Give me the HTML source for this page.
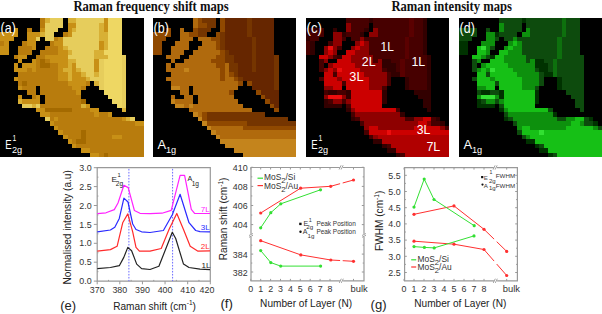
<!DOCTYPE html>
<html><head><meta charset="utf-8">
<style>
html,body{margin:0;padding:0;background:#fff;width:602px;height:314px;overflow:hidden}
svg{display:block}
text{font-family:"Liberation Sans",sans-serif}
.ser{font-family:"Liberation Serif",serif;font-weight:bold}
</style></head><body>
<svg width="602" height="314" viewBox="0 0 602 314">
<defs><filter id="soft" x="-2%" y="-2%" width="104%" height="104%"><feGaussianBlur stdDeviation="0.45"/></filter></defs>
<rect width="602" height="314" fill="#fff"/>
<text class="ser" x="73.4" y="11.1" font-size="13.8" fill="#111" textLength="155.4" lengthAdjust="spacingAndGlyphs">Raman frequency shift maps</text>
<text class="ser" x="391.4" y="11.1" font-size="13.8" fill="#111" textLength="120.6" lengthAdjust="spacingAndGlyphs">Raman intensity maps</text>
<g filter="url(#soft)">
<g shape-rendering="crispEdges"><rect x="0" y="18" width="144" height="139" fill="#000"/>
<rect x="40" y="18" width="5" height="5" fill="#b87c08"/>
<rect x="45" y="18" width="5" height="5" fill="#d8b036"/>
<rect x="50" y="18" width="13" height="5" fill="#e6cd5c"/>
<rect x="68" y="18" width="8" height="5" fill="#d8b036"/>
<rect x="76" y="18" width="28" height="5" fill="#e6cd5c"/>
<rect x="104" y="18" width="4" height="5" fill="#c89012"/>
<rect x="108" y="18" width="14" height="5" fill="#eed764"/>
<rect x="40" y="23" width="5" height="5" fill="#b87c08"/>
<rect x="45" y="23" width="18" height="5" fill="#e6cd5c"/>
<rect x="68" y="23" width="8" height="5" fill="#c89012"/>
<rect x="76" y="23" width="23" height="5" fill="#e6cd5c"/>
<rect x="99" y="23" width="5" height="5" fill="#d8b036"/>
<rect x="104" y="23" width="4" height="5" fill="#c89012"/>
<rect x="108" y="23" width="14" height="5" fill="#eed764"/>
<rect x="14" y="28" width="4" height="4" fill="#c89012"/>
<rect x="27" y="28" width="5" height="4" fill="#b87c08"/>
<rect x="40" y="28" width="5" height="4" fill="#c89012"/>
<rect x="45" y="28" width="13" height="4" fill="#e6cd5c"/>
<rect x="68" y="28" width="4" height="4" fill="#c89012"/>
<rect x="72" y="28" width="4" height="4" fill="#d8b036"/>
<rect x="76" y="28" width="23" height="4" fill="#e6cd5c"/>
<rect x="99" y="28" width="5" height="4" fill="#d8b036"/>
<rect x="104" y="28" width="4" height="4" fill="#c89012"/>
<rect x="108" y="28" width="14" height="4" fill="#eed764"/>
<rect x="0" y="32" width="18" height="5" fill="#c89012"/>
<rect x="27" y="32" width="13" height="5" fill="#c89012"/>
<rect x="40" y="32" width="5" height="5" fill="#d8b036"/>
<rect x="45" y="32" width="9" height="5" fill="#e6cd5c"/>
<rect x="63" y="32" width="5" height="5" fill="#b87c08"/>
<rect x="68" y="32" width="4" height="5" fill="#c89012"/>
<rect x="72" y="32" width="27" height="5" fill="#e6cd5c"/>
<rect x="99" y="32" width="9" height="5" fill="#d8b036"/>
<rect x="108" y="32" width="14" height="5" fill="#eed764"/>
<rect x="0" y="37" width="14" height="4" fill="#c89012"/>
<rect x="27" y="37" width="9" height="4" fill="#c89012"/>
<rect x="36" y="37" width="4" height="4" fill="#e6cd5c"/>
<rect x="45" y="37" width="9" height="4" fill="#e6cd5c"/>
<rect x="54" y="37" width="4" height="4" fill="#b87c08"/>
<rect x="58" y="37" width="5" height="4" fill="#c89012"/>
<rect x="63" y="37" width="36" height="4" fill="#e6cd5c"/>
<rect x="99" y="37" width="9" height="4" fill="#d8b036"/>
<rect x="108" y="37" width="14" height="4" fill="#eed764"/>
<rect x="0" y="41" width="4" height="5" fill="#b87c08"/>
<rect x="4" y="41" width="5" height="5" fill="#c89012"/>
<rect x="22" y="41" width="5" height="5" fill="#b87c08"/>
<rect x="27" y="41" width="9" height="5" fill="#c89012"/>
<rect x="50" y="41" width="4" height="5" fill="#b87c08"/>
<rect x="54" y="41" width="9" height="5" fill="#c89012"/>
<rect x="63" y="41" width="36" height="5" fill="#e6cd5c"/>
<rect x="99" y="41" width="5" height="5" fill="#c89012"/>
<rect x="104" y="41" width="4" height="5" fill="#d8b036"/>
<rect x="108" y="41" width="14" height="5" fill="#eed764"/>
<rect x="0" y="46" width="9" height="4" fill="#c89012"/>
<rect x="18" y="46" width="14" height="4" fill="#b87c08"/>
<rect x="32" y="46" width="4" height="4" fill="#c89012"/>
<rect x="45" y="46" width="13" height="4" fill="#b87c08"/>
<rect x="58" y="46" width="5" height="4" fill="#c89012"/>
<rect x="63" y="46" width="5" height="4" fill="#d8b036"/>
<rect x="68" y="46" width="31" height="4" fill="#e6cd5c"/>
<rect x="99" y="46" width="5" height="4" fill="#c89012"/>
<rect x="104" y="46" width="4" height="4" fill="#d8b036"/>
<rect x="108" y="46" width="14" height="4" fill="#eed764"/>
<rect x="0" y="50" width="9" height="5" fill="#c89012"/>
<rect x="18" y="50" width="14" height="5" fill="#b87c08"/>
<rect x="40" y="50" width="18" height="5" fill="#b87c08"/>
<rect x="58" y="50" width="10" height="5" fill="#c89012"/>
<rect x="68" y="50" width="4" height="5" fill="#d8b036"/>
<rect x="72" y="50" width="22" height="5" fill="#e6cd5c"/>
<rect x="94" y="50" width="10" height="5" fill="#d8b036"/>
<rect x="104" y="50" width="18" height="5" fill="#eed764"/>
<rect x="14" y="55" width="4" height="4" fill="#b87c08"/>
<rect x="18" y="55" width="9" height="4" fill="#c89012"/>
<rect x="36" y="55" width="9" height="4" fill="#b87c08"/>
<rect x="45" y="55" width="23" height="4" fill="#c89012"/>
<rect x="68" y="55" width="26" height="4" fill="#e6cd5c"/>
<rect x="94" y="55" width="14" height="4" fill="#d8b036"/>
<rect x="108" y="55" width="14" height="4" fill="#eed764"/>
<rect x="122" y="55" width="4" height="4" fill="#e6cd5c"/>
<rect x="18" y="59" width="4" height="4" fill="#c89012"/>
<rect x="32" y="59" width="4" height="4" fill="#c89012"/>
<rect x="36" y="59" width="4" height="4" fill="#b87c08"/>
<rect x="40" y="59" width="5" height="4" fill="#a46a06"/>
<rect x="45" y="59" width="5" height="4" fill="#b87c08"/>
<rect x="50" y="59" width="18" height="4" fill="#c89012"/>
<rect x="68" y="59" width="8" height="4" fill="#d8b036"/>
<rect x="76" y="59" width="18" height="4" fill="#e6cd5c"/>
<rect x="94" y="59" width="5" height="4" fill="#c89012"/>
<rect x="99" y="59" width="5" height="4" fill="#e6cd5c"/>
<rect x="104" y="59" width="18" height="4" fill="#eed764"/>
<rect x="122" y="59" width="4" height="4" fill="#e6cd5c"/>
<rect x="14" y="63" width="4" height="5" fill="#c89012"/>
<rect x="22" y="63" width="14" height="5" fill="#c89012"/>
<rect x="36" y="63" width="4" height="5" fill="#b87c08"/>
<rect x="40" y="63" width="10" height="5" fill="#a46a06"/>
<rect x="50" y="63" width="8" height="5" fill="#b87c08"/>
<rect x="58" y="63" width="10" height="5" fill="#c89012"/>
<rect x="68" y="63" width="4" height="5" fill="#d8b036"/>
<rect x="72" y="63" width="4" height="5" fill="#c89012"/>
<rect x="76" y="63" width="18" height="5" fill="#e6cd5c"/>
<rect x="94" y="63" width="5" height="5" fill="#c89012"/>
<rect x="99" y="63" width="5" height="5" fill="#e6cd5c"/>
<rect x="104" y="63" width="18" height="5" fill="#eed764"/>
<rect x="122" y="63" width="4" height="5" fill="#e6cd5c"/>
<rect x="14" y="68" width="13" height="4" fill="#c89012"/>
<rect x="27" y="68" width="5" height="4" fill="#b87c08"/>
<rect x="32" y="68" width="4" height="4" fill="#c89012"/>
<rect x="36" y="68" width="22" height="4" fill="#b87c08"/>
<rect x="58" y="68" width="5" height="4" fill="#c89012"/>
<rect x="63" y="68" width="9" height="4" fill="#d8b036"/>
<rect x="72" y="68" width="4" height="4" fill="#c89012"/>
<rect x="76" y="68" width="5" height="4" fill="#d8b036"/>
<rect x="81" y="68" width="13" height="4" fill="#e6cd5c"/>
<rect x="94" y="68" width="5" height="4" fill="#c89012"/>
<rect x="99" y="68" width="5" height="4" fill="#e6cd5c"/>
<rect x="104" y="68" width="18" height="4" fill="#eed764"/>
<rect x="122" y="68" width="4" height="4" fill="#e6cd5c"/>
<rect x="18" y="72" width="40" height="5" fill="#b87c08"/>
<rect x="58" y="72" width="10" height="5" fill="#c89012"/>
<rect x="68" y="72" width="4" height="5" fill="#d8b036"/>
<rect x="72" y="72" width="9" height="5" fill="#c89012"/>
<rect x="81" y="72" width="5" height="5" fill="#d8b036"/>
<rect x="86" y="72" width="8" height="5" fill="#e6cd5c"/>
<rect x="94" y="72" width="5" height="5" fill="#d8b036"/>
<rect x="99" y="72" width="5" height="5" fill="#e6cd5c"/>
<rect x="104" y="72" width="18" height="5" fill="#eed764"/>
<rect x="122" y="72" width="4" height="5" fill="#e6cd5c"/>
<rect x="14" y="77" width="4" height="4" fill="#c89012"/>
<rect x="18" y="77" width="40" height="4" fill="#b87c08"/>
<rect x="58" y="77" width="10" height="4" fill="#c89012"/>
<rect x="68" y="77" width="4" height="4" fill="#d8b036"/>
<rect x="72" y="77" width="14" height="4" fill="#c89012"/>
<rect x="86" y="77" width="4" height="4" fill="#d8b036"/>
<rect x="90" y="77" width="14" height="4" fill="#e6cd5c"/>
<rect x="104" y="77" width="18" height="4" fill="#eed764"/>
<rect x="122" y="77" width="4" height="4" fill="#e6cd5c"/>
<rect x="18" y="81" width="4" height="5" fill="#b87c08"/>
<rect x="22" y="81" width="5" height="5" fill="#a46a06"/>
<rect x="27" y="81" width="41" height="5" fill="#b87c08"/>
<rect x="68" y="81" width="18" height="5" fill="#c89012"/>
<rect x="86" y="81" width="4" height="5" fill="#b87c08"/>
<rect x="94" y="81" width="5" height="5" fill="#d8b036"/>
<rect x="99" y="81" width="5" height="5" fill="#e6cd5c"/>
<rect x="104" y="81" width="18" height="5" fill="#eed764"/>
<rect x="122" y="81" width="4" height="5" fill="#e6cd5c"/>
<rect x="18" y="86" width="4" height="4" fill="#c89012"/>
<rect x="22" y="86" width="14" height="4" fill="#b87c08"/>
<rect x="40" y="86" width="32" height="4" fill="#b87c08"/>
<rect x="72" y="86" width="9" height="4" fill="#c89012"/>
<rect x="81" y="86" width="5" height="4" fill="#b87c08"/>
<rect x="99" y="86" width="5" height="4" fill="#e6cd5c"/>
<rect x="104" y="86" width="18" height="4" fill="#eed764"/>
<rect x="122" y="86" width="4" height="4" fill="#e6cd5c"/>
<rect x="27" y="90" width="9" height="5" fill="#b87c08"/>
<rect x="40" y="90" width="36" height="5" fill="#b87c08"/>
<rect x="76" y="90" width="5" height="5" fill="#c89012"/>
<rect x="104" y="90" width="18" height="5" fill="#eed764"/>
<rect x="122" y="90" width="4" height="5" fill="#e6cd5c"/>
<rect x="18" y="95" width="4" height="4" fill="#c89012"/>
<rect x="32" y="95" width="4" height="4" fill="#b87c08"/>
<rect x="36" y="95" width="4" height="4" fill="#c89012"/>
<rect x="45" y="95" width="36" height="4" fill="#b87c08"/>
<rect x="108" y="95" width="14" height="4" fill="#eed764"/>
<rect x="122" y="95" width="4" height="4" fill="#e6cd5c"/>
<rect x="18" y="99" width="4" height="5" fill="#d8b036"/>
<rect x="22" y="99" width="18" height="5" fill="#c89012"/>
<rect x="45" y="99" width="36" height="5" fill="#b87c08"/>
<rect x="81" y="99" width="5" height="5" fill="#a46a06"/>
<rect x="112" y="99" width="10" height="5" fill="#eed764"/>
<rect x="122" y="99" width="4" height="5" fill="#e6cd5c"/>
<rect x="22" y="104" width="10" height="4" fill="#e6cd5c"/>
<rect x="32" y="104" width="4" height="4" fill="#d8b036"/>
<rect x="36" y="104" width="4" height="4" fill="#e6cd5c"/>
<rect x="40" y="104" width="41" height="4" fill="#b87c08"/>
<rect x="81" y="104" width="5" height="4" fill="#d8b036"/>
<rect x="86" y="104" width="4" height="4" fill="#c89012"/>
<rect x="117" y="104" width="5" height="4" fill="#eed764"/>
<rect x="122" y="104" width="4" height="4" fill="#e6cd5c"/>
<rect x="36" y="108" width="9" height="4" fill="#c89012"/>
<rect x="45" y="108" width="27" height="4" fill="#a46a06"/>
<rect x="72" y="108" width="18" height="4" fill="#b87c08"/>
<rect x="90" y="108" width="9" height="4" fill="#c89012"/>
<rect x="122" y="108" width="4" height="4" fill="#d8b036"/>
<rect x="40" y="112" width="10" height="5" fill="#c89012"/>
<rect x="50" y="112" width="44" height="5" fill="#b87c08"/>
<rect x="94" y="112" width="5" height="5" fill="#c89012"/>
<rect x="99" y="112" width="9" height="5" fill="#b87c08"/>
<rect x="108" y="112" width="4" height="5" fill="#c89012"/>
<rect x="45" y="117" width="5" height="4" fill="#e6cd5c"/>
<rect x="50" y="117" width="4" height="4" fill="#b87c08"/>
<rect x="54" y="117" width="4" height="4" fill="#c89012"/>
<rect x="58" y="117" width="64" height="4" fill="#b87c08"/>
<rect x="122" y="117" width="4" height="4" fill="#c89012"/>
<rect x="126" y="117" width="4" height="4" fill="#d8b036"/>
<rect x="130" y="117" width="5" height="4" fill="#e6cd5c"/>
<rect x="50" y="121" width="4" height="5" fill="#c89012"/>
<rect x="54" y="121" width="81" height="5" fill="#b87c08"/>
<rect x="135" y="121" width="9" height="5" fill="#c89012"/>
<rect x="54" y="126" width="4" height="4" fill="#c89012"/>
<rect x="58" y="126" width="86" height="4" fill="#b87c08"/>
<rect x="58" y="130" width="5" height="5" fill="#c89012"/>
<rect x="63" y="130" width="18" height="5" fill="#b87c08"/>
<rect x="81" y="130" width="5" height="5" fill="#a46a06"/>
<rect x="86" y="130" width="58" height="5" fill="#b87c08"/>
<rect x="63" y="135" width="5" height="4" fill="#c89012"/>
<rect x="68" y="135" width="13" height="4" fill="#b87c08"/>
<rect x="81" y="135" width="5" height="4" fill="#a46a06"/>
<rect x="86" y="135" width="26" height="4" fill="#b87c08"/>
<rect x="112" y="135" width="10" height="4" fill="#c89012"/>
<rect x="122" y="135" width="22" height="4" fill="#b87c08"/>
<rect x="68" y="139" width="4" height="5" fill="#c89012"/>
<rect x="72" y="139" width="4" height="5" fill="#b87c08"/>
<rect x="76" y="139" width="10" height="5" fill="#a46a06"/>
<rect x="86" y="139" width="58" height="5" fill="#b87c08"/>
<rect x="72" y="144" width="4" height="4" fill="#c89012"/>
<rect x="76" y="144" width="68" height="4" fill="#b87c08"/>
<rect x="81" y="148" width="9" height="5" fill="#c89012"/>
<rect x="90" y="148" width="54" height="5" fill="#b87c08"/>
<rect x="90" y="153" width="9" height="4" fill="#c89012"/>
<rect x="99" y="153" width="5" height="4" fill="#b87c08"/>
<rect x="104" y="153" width="4" height="4" fill="#a46a06"/>
<rect x="108" y="153" width="36" height="4" fill="#b87c08"/></g>
<g shape-rendering="crispEdges"><rect x="153" y="18" width="143" height="139" fill="#000"/>
<rect x="193" y="18" width="5" height="5" fill="#b06a0c"/>
<rect x="198" y="18" width="4" height="5" fill="#904a04"/>
<rect x="202" y="18" width="14" height="5" fill="#743400"/>
<rect x="220" y="18" width="5" height="5" fill="#904a04"/>
<rect x="225" y="18" width="22" height="5" fill="#662800"/>
<rect x="247" y="18" width="5" height="5" fill="#743400"/>
<rect x="252" y="18" width="22" height="5" fill="#662800"/>
<rect x="193" y="23" width="5" height="5" fill="#b06a0c"/>
<rect x="198" y="23" width="9" height="5" fill="#904a04"/>
<rect x="207" y="23" width="9" height="5" fill="#743400"/>
<rect x="220" y="23" width="5" height="5" fill="#904a04"/>
<rect x="225" y="23" width="22" height="5" fill="#662800"/>
<rect x="247" y="23" width="5" height="5" fill="#743400"/>
<rect x="252" y="23" width="22" height="5" fill="#662800"/>
<rect x="166" y="28" width="5" height="4" fill="#904a04"/>
<rect x="180" y="28" width="4" height="4" fill="#b06a0c"/>
<rect x="193" y="28" width="5" height="4" fill="#904a04"/>
<rect x="198" y="28" width="13" height="4" fill="#743400"/>
<rect x="220" y="28" width="5" height="4" fill="#904a04"/>
<rect x="225" y="28" width="22" height="4" fill="#662800"/>
<rect x="247" y="28" width="5" height="4" fill="#743400"/>
<rect x="252" y="28" width="22" height="4" fill="#662800"/>
<rect x="153" y="32" width="18" height="5" fill="#904a04"/>
<rect x="180" y="32" width="9" height="5" fill="#b06a0c"/>
<rect x="189" y="32" width="9" height="5" fill="#904a04"/>
<rect x="198" y="32" width="9" height="5" fill="#743400"/>
<rect x="216" y="32" width="4" height="5" fill="#904a04"/>
<rect x="220" y="32" width="5" height="5" fill="#743400"/>
<rect x="225" y="32" width="22" height="5" fill="#662800"/>
<rect x="247" y="32" width="5" height="5" fill="#743400"/>
<rect x="252" y="32" width="22" height="5" fill="#662800"/>
<rect x="153" y="37" width="13" height="4" fill="#904a04"/>
<rect x="180" y="37" width="13" height="4" fill="#b06a0c"/>
<rect x="198" y="37" width="13" height="4" fill="#b06a0c"/>
<rect x="211" y="37" width="9" height="4" fill="#904a04"/>
<rect x="220" y="37" width="5" height="4" fill="#743400"/>
<rect x="225" y="37" width="27" height="4" fill="#662800"/>
<rect x="252" y="37" width="4" height="4" fill="#743400"/>
<rect x="256" y="37" width="18" height="4" fill="#662800"/>
<rect x="153" y="41" width="9" height="5" fill="#904a04"/>
<rect x="175" y="41" width="14" height="5" fill="#b06a0c"/>
<rect x="202" y="41" width="14" height="5" fill="#b06a0c"/>
<rect x="216" y="41" width="4" height="5" fill="#904a04"/>
<rect x="220" y="41" width="5" height="5" fill="#743400"/>
<rect x="225" y="41" width="27" height="5" fill="#662800"/>
<rect x="252" y="41" width="4" height="5" fill="#743400"/>
<rect x="256" y="41" width="18" height="5" fill="#662800"/>
<rect x="153" y="46" width="9" height="4" fill="#904a04"/>
<rect x="171" y="46" width="18" height="4" fill="#b06a0c"/>
<rect x="198" y="46" width="18" height="4" fill="#b06a0c"/>
<rect x="216" y="46" width="4" height="4" fill="#904a04"/>
<rect x="220" y="46" width="5" height="4" fill="#743400"/>
<rect x="225" y="46" width="27" height="4" fill="#662800"/>
<rect x="252" y="46" width="4" height="4" fill="#743400"/>
<rect x="256" y="46" width="18" height="4" fill="#662800"/>
<rect x="153" y="50" width="9" height="5" fill="#904a04"/>
<rect x="171" y="50" width="13" height="5" fill="#b06a0c"/>
<rect x="193" y="50" width="27" height="5" fill="#b06a0c"/>
<rect x="220" y="50" width="5" height="5" fill="#904a04"/>
<rect x="225" y="50" width="4" height="5" fill="#743400"/>
<rect x="229" y="50" width="23" height="5" fill="#662800"/>
<rect x="252" y="50" width="4" height="5" fill="#743400"/>
<rect x="256" y="50" width="18" height="5" fill="#662800"/>
<rect x="166" y="55" width="14" height="4" fill="#b06a0c"/>
<rect x="189" y="55" width="27" height="4" fill="#b06a0c"/>
<rect x="216" y="55" width="9" height="4" fill="#904a04"/>
<rect x="225" y="55" width="9" height="4" fill="#743400"/>
<rect x="234" y="55" width="18" height="4" fill="#662800"/>
<rect x="252" y="55" width="4" height="4" fill="#743400"/>
<rect x="256" y="55" width="18" height="4" fill="#662800"/>
<rect x="274" y="55" width="5" height="4" fill="#743400"/>
<rect x="171" y="59" width="4" height="4" fill="#b06a0c"/>
<rect x="184" y="59" width="27" height="4" fill="#b06a0c"/>
<rect x="211" y="59" width="14" height="4" fill="#904a04"/>
<rect x="225" y="59" width="9" height="4" fill="#743400"/>
<rect x="234" y="59" width="18" height="4" fill="#662800"/>
<rect x="252" y="59" width="4" height="4" fill="#743400"/>
<rect x="256" y="59" width="18" height="4" fill="#662800"/>
<rect x="274" y="59" width="5" height="4" fill="#743400"/>
<rect x="166" y="63" width="5" height="5" fill="#b06a0c"/>
<rect x="175" y="63" width="41" height="5" fill="#b06a0c"/>
<rect x="216" y="63" width="9" height="5" fill="#904a04"/>
<rect x="225" y="63" width="4" height="5" fill="#b06a0c"/>
<rect x="229" y="63" width="9" height="5" fill="#743400"/>
<rect x="238" y="63" width="14" height="5" fill="#662800"/>
<rect x="252" y="63" width="4" height="5" fill="#743400"/>
<rect x="256" y="63" width="18" height="5" fill="#662800"/>
<rect x="274" y="63" width="5" height="5" fill="#743400"/>
<rect x="166" y="68" width="18" height="4" fill="#b06a0c"/>
<rect x="184" y="68" width="5" height="4" fill="#c4841a"/>
<rect x="189" y="68" width="31" height="4" fill="#b06a0c"/>
<rect x="220" y="68" width="5" height="4" fill="#904a04"/>
<rect x="225" y="68" width="4" height="4" fill="#b06a0c"/>
<rect x="229" y="68" width="9" height="4" fill="#743400"/>
<rect x="238" y="68" width="14" height="4" fill="#662800"/>
<rect x="252" y="68" width="4" height="4" fill="#743400"/>
<rect x="256" y="68" width="18" height="4" fill="#662800"/>
<rect x="274" y="68" width="5" height="4" fill="#743400"/>
<rect x="171" y="72" width="49" height="5" fill="#b06a0c"/>
<rect x="220" y="72" width="5" height="5" fill="#904a04"/>
<rect x="225" y="72" width="4" height="5" fill="#b06a0c"/>
<rect x="229" y="72" width="5" height="5" fill="#904a04"/>
<rect x="234" y="72" width="4" height="5" fill="#743400"/>
<rect x="238" y="72" width="36" height="5" fill="#662800"/>
<rect x="274" y="72" width="5" height="5" fill="#743400"/>
<rect x="166" y="77" width="54" height="4" fill="#b06a0c"/>
<rect x="220" y="77" width="5" height="4" fill="#904a04"/>
<rect x="225" y="77" width="9" height="4" fill="#b06a0c"/>
<rect x="234" y="77" width="4" height="4" fill="#904a04"/>
<rect x="238" y="77" width="5" height="4" fill="#743400"/>
<rect x="243" y="77" width="31" height="4" fill="#662800"/>
<rect x="274" y="77" width="5" height="4" fill="#743400"/>
<rect x="171" y="81" width="67" height="5" fill="#b06a0c"/>
<rect x="238" y="81" width="5" height="5" fill="#904a04"/>
<rect x="247" y="81" width="5" height="5" fill="#904a04"/>
<rect x="252" y="81" width="22" height="5" fill="#662800"/>
<rect x="274" y="81" width="5" height="5" fill="#743400"/>
<rect x="171" y="86" width="9" height="4" fill="#c4841a"/>
<rect x="180" y="86" width="9" height="4" fill="#b06a0c"/>
<rect x="193" y="86" width="45" height="4" fill="#b06a0c"/>
<rect x="252" y="86" width="22" height="4" fill="#662800"/>
<rect x="274" y="86" width="5" height="4" fill="#743400"/>
<rect x="180" y="90" width="9" height="5" fill="#b06a0c"/>
<rect x="193" y="90" width="36" height="5" fill="#b06a0c"/>
<rect x="229" y="90" width="5" height="5" fill="#904a04"/>
<rect x="256" y="90" width="5" height="5" fill="#904a04"/>
<rect x="261" y="90" width="18" height="5" fill="#662800"/>
<rect x="171" y="95" width="4" height="4" fill="#b06a0c"/>
<rect x="184" y="95" width="9" height="4" fill="#b06a0c"/>
<rect x="198" y="95" width="36" height="4" fill="#b06a0c"/>
<rect x="261" y="95" width="4" height="4" fill="#904a04"/>
<rect x="265" y="95" width="14" height="4" fill="#662800"/>
<rect x="171" y="99" width="4" height="5" fill="#c4841a"/>
<rect x="175" y="99" width="18" height="5" fill="#b06a0c"/>
<rect x="198" y="99" width="40" height="5" fill="#b06a0c"/>
<rect x="265" y="99" width="5" height="5" fill="#904a04"/>
<rect x="270" y="99" width="9" height="5" fill="#662800"/>
<rect x="175" y="104" width="9" height="4" fill="#c4841a"/>
<rect x="184" y="104" width="5" height="4" fill="#b06a0c"/>
<rect x="189" y="104" width="4" height="4" fill="#c4841a"/>
<rect x="193" y="104" width="50" height="4" fill="#b06a0c"/>
<rect x="270" y="104" width="4" height="4" fill="#904a04"/>
<rect x="274" y="104" width="5" height="4" fill="#662800"/>
<rect x="189" y="108" width="63" height="4" fill="#b06a0c"/>
<rect x="274" y="108" width="5" height="4" fill="#904a04"/>
<rect x="193" y="112" width="5" height="5" fill="#c4841a"/>
<rect x="198" y="112" width="4" height="5" fill="#b06a0c"/>
<rect x="202" y="112" width="5" height="5" fill="#904a04"/>
<rect x="207" y="112" width="58" height="5" fill="#743400"/>
<rect x="198" y="117" width="4" height="4" fill="#c4841a"/>
<rect x="202" y="117" width="5" height="4" fill="#904a04"/>
<rect x="207" y="117" width="81" height="4" fill="#743400"/>
<rect x="202" y="121" width="5" height="5" fill="#c4841a"/>
<rect x="207" y="121" width="40" height="5" fill="#904a04"/>
<rect x="247" y="121" width="49" height="5" fill="#743400"/>
<rect x="207" y="126" width="4" height="4" fill="#c4841a"/>
<rect x="211" y="126" width="32" height="4" fill="#b06a0c"/>
<rect x="243" y="126" width="53" height="4" fill="#904a04"/>
<rect x="211" y="130" width="5" height="5" fill="#c4841a"/>
<rect x="216" y="130" width="80" height="5" fill="#b06a0c"/>
<rect x="216" y="135" width="4" height="4" fill="#c4841a"/>
<rect x="220" y="135" width="76" height="4" fill="#b06a0c"/>
<rect x="220" y="139" width="76" height="5" fill="#c4841a"/>
<rect x="225" y="144" width="71" height="4" fill="#c4841a"/>
<rect x="234" y="148" width="62" height="5" fill="#c4841a"/>
<rect x="243" y="153" width="53" height="4" fill="#c4841a"/></g>
<g shape-rendering="crispEdges"><rect x="306" y="18" width="143" height="139" fill="#000"/>
<rect x="346" y="18" width="23" height="5" fill="#460000"/>
<rect x="369" y="18" width="4" height="5" fill="#300000"/>
<rect x="373" y="18" width="36" height="5" fill="#460000"/>
<rect x="409" y="18" width="5" height="5" fill="#5a0000"/>
<rect x="414" y="18" width="9" height="5" fill="#460000"/>
<rect x="423" y="18" width="4" height="5" fill="#300000"/>
<rect x="346" y="23" width="5" height="5" fill="#8e0000"/>
<rect x="351" y="23" width="18" height="5" fill="#460000"/>
<rect x="373" y="23" width="36" height="5" fill="#460000"/>
<rect x="409" y="23" width="5" height="5" fill="#5a0000"/>
<rect x="414" y="23" width="9" height="5" fill="#460000"/>
<rect x="423" y="23" width="4" height="5" fill="#300000"/>
<rect x="306" y="28" width="13" height="4" fill="#300000"/>
<rect x="319" y="28" width="5" height="4" fill="#460000"/>
<rect x="333" y="28" width="4" height="4" fill="#300000"/>
<rect x="346" y="28" width="5" height="4" fill="#8e0000"/>
<rect x="351" y="28" width="13" height="4" fill="#460000"/>
<rect x="364" y="28" width="5" height="4" fill="#300000"/>
<rect x="373" y="28" width="5" height="4" fill="#8e0000"/>
<rect x="378" y="28" width="31" height="4" fill="#460000"/>
<rect x="409" y="28" width="5" height="4" fill="#5a0000"/>
<rect x="414" y="28" width="9" height="4" fill="#460000"/>
<rect x="423" y="28" width="4" height="4" fill="#300000"/>
<rect x="306" y="32" width="4" height="5" fill="#300000"/>
<rect x="310" y="32" width="14" height="5" fill="#460000"/>
<rect x="333" y="32" width="9" height="5" fill="#8e0000"/>
<rect x="342" y="32" width="4" height="5" fill="#300000"/>
<rect x="346" y="32" width="14" height="5" fill="#460000"/>
<rect x="360" y="32" width="4" height="5" fill="#300000"/>
<rect x="369" y="32" width="9" height="5" fill="#8e0000"/>
<rect x="378" y="32" width="31" height="5" fill="#460000"/>
<rect x="409" y="32" width="5" height="5" fill="#5a0000"/>
<rect x="414" y="32" width="9" height="5" fill="#460000"/>
<rect x="423" y="32" width="4" height="5" fill="#300000"/>
<rect x="306" y="37" width="4" height="4" fill="#300000"/>
<rect x="310" y="37" width="9" height="4" fill="#460000"/>
<rect x="333" y="37" width="9" height="4" fill="#8e0000"/>
<rect x="342" y="37" width="4" height="4" fill="#460000"/>
<rect x="351" y="37" width="9" height="4" fill="#460000"/>
<rect x="360" y="37" width="4" height="4" fill="#8e0000"/>
<rect x="364" y="37" width="41" height="4" fill="#460000"/>
<rect x="405" y="37" width="4" height="4" fill="#5a0000"/>
<rect x="409" y="37" width="14" height="4" fill="#460000"/>
<rect x="423" y="37" width="4" height="4" fill="#300000"/>
<rect x="306" y="41" width="4" height="5" fill="#460000"/>
<rect x="310" y="41" width="5" height="5" fill="#300000"/>
<rect x="328" y="41" width="5" height="5" fill="#460000"/>
<rect x="333" y="41" width="9" height="5" fill="#8e0000"/>
<rect x="355" y="41" width="5" height="5" fill="#8e0000"/>
<rect x="360" y="41" width="4" height="5" fill="#cc0000"/>
<rect x="364" y="41" width="5" height="5" fill="#8e0000"/>
<rect x="369" y="41" width="36" height="5" fill="#460000"/>
<rect x="405" y="41" width="4" height="5" fill="#5a0000"/>
<rect x="409" y="41" width="14" height="5" fill="#460000"/>
<rect x="423" y="41" width="4" height="5" fill="#300000"/>
<rect x="306" y="46" width="4" height="4" fill="#460000"/>
<rect x="310" y="46" width="5" height="4" fill="#300000"/>
<rect x="324" y="46" width="4" height="4" fill="#8e0000"/>
<rect x="328" y="46" width="5" height="4" fill="#ec0c0c"/>
<rect x="333" y="46" width="4" height="4" fill="#8e0000"/>
<rect x="337" y="46" width="5" height="4" fill="#460000"/>
<rect x="351" y="46" width="4" height="4" fill="#8e0000"/>
<rect x="355" y="46" width="5" height="4" fill="#cc0000"/>
<rect x="360" y="46" width="9" height="4" fill="#8e0000"/>
<rect x="369" y="46" width="36" height="4" fill="#460000"/>
<rect x="405" y="46" width="4" height="4" fill="#5a0000"/>
<rect x="409" y="46" width="14" height="4" fill="#460000"/>
<rect x="423" y="46" width="4" height="4" fill="#300000"/>
<rect x="306" y="50" width="4" height="5" fill="#460000"/>
<rect x="310" y="50" width="5" height="5" fill="#300000"/>
<rect x="324" y="50" width="4" height="5" fill="#8e0000"/>
<rect x="328" y="50" width="5" height="5" fill="#cc0000"/>
<rect x="333" y="50" width="4" height="5" fill="#8e0000"/>
<rect x="346" y="50" width="9" height="5" fill="#cc0000"/>
<rect x="355" y="50" width="14" height="5" fill="#8e0000"/>
<rect x="369" y="50" width="36" height="5" fill="#460000"/>
<rect x="405" y="50" width="4" height="5" fill="#5a0000"/>
<rect x="409" y="50" width="14" height="5" fill="#460000"/>
<rect x="423" y="50" width="4" height="5" fill="#300000"/>
<rect x="319" y="55" width="9" height="4" fill="#cc0000"/>
<rect x="328" y="55" width="5" height="4" fill="#8e0000"/>
<rect x="333" y="55" width="4" height="4" fill="#460000"/>
<rect x="337" y="55" width="5" height="4" fill="#300000"/>
<rect x="342" y="55" width="9" height="4" fill="#cc0000"/>
<rect x="351" y="55" width="22" height="4" fill="#8e0000"/>
<rect x="373" y="55" width="32" height="4" fill="#460000"/>
<rect x="405" y="55" width="4" height="4" fill="#5a0000"/>
<rect x="409" y="55" width="18" height="4" fill="#460000"/>
<rect x="427" y="55" width="4" height="4" fill="#300000"/>
<rect x="319" y="59" width="5" height="4" fill="#460000"/>
<rect x="324" y="59" width="4" height="4" fill="#8e0000"/>
<rect x="337" y="59" width="14" height="4" fill="#cc0000"/>
<rect x="351" y="59" width="22" height="4" fill="#8e0000"/>
<rect x="373" y="59" width="5" height="4" fill="#460000"/>
<rect x="378" y="59" width="4" height="4" fill="#8e0000"/>
<rect x="382" y="59" width="9" height="4" fill="#300000"/>
<rect x="391" y="59" width="9" height="4" fill="#460000"/>
<rect x="400" y="59" width="5" height="4" fill="#5a0000"/>
<rect x="405" y="59" width="22" height="4" fill="#460000"/>
<rect x="427" y="59" width="4" height="4" fill="#300000"/>
<rect x="319" y="63" width="5" height="5" fill="#460000"/>
<rect x="328" y="63" width="5" height="5" fill="#8e0000"/>
<rect x="333" y="63" width="22" height="5" fill="#cc0000"/>
<rect x="355" y="63" width="27" height="5" fill="#8e0000"/>
<rect x="382" y="63" width="14" height="5" fill="#300000"/>
<rect x="396" y="63" width="4" height="5" fill="#460000"/>
<rect x="400" y="63" width="5" height="5" fill="#5a0000"/>
<rect x="405" y="63" width="22" height="5" fill="#460000"/>
<rect x="427" y="63" width="4" height="5" fill="#300000"/>
<rect x="319" y="68" width="5" height="4" fill="#460000"/>
<rect x="324" y="68" width="4" height="4" fill="#8e0000"/>
<rect x="328" y="68" width="5" height="4" fill="#cc0000"/>
<rect x="333" y="68" width="4" height="4" fill="#8e0000"/>
<rect x="337" y="68" width="5" height="4" fill="#ec0c0c"/>
<rect x="342" y="68" width="18" height="4" fill="#cc0000"/>
<rect x="360" y="68" width="22" height="4" fill="#8e0000"/>
<rect x="382" y="68" width="5" height="4" fill="#460000"/>
<rect x="387" y="68" width="9" height="4" fill="#300000"/>
<rect x="396" y="68" width="4" height="4" fill="#460000"/>
<rect x="400" y="68" width="5" height="4" fill="#5a0000"/>
<rect x="405" y="68" width="22" height="4" fill="#460000"/>
<rect x="427" y="68" width="4" height="4" fill="#300000"/>
<rect x="324" y="72" width="9" height="5" fill="#cc0000"/>
<rect x="333" y="72" width="4" height="5" fill="#460000"/>
<rect x="337" y="72" width="27" height="5" fill="#cc0000"/>
<rect x="364" y="72" width="23" height="5" fill="#8e0000"/>
<rect x="387" y="72" width="4" height="5" fill="#460000"/>
<rect x="391" y="72" width="9" height="5" fill="#300000"/>
<rect x="400" y="72" width="5" height="5" fill="#5a0000"/>
<rect x="405" y="72" width="22" height="5" fill="#460000"/>
<rect x="427" y="72" width="4" height="5" fill="#300000"/>
<rect x="319" y="77" width="5" height="4" fill="#460000"/>
<rect x="324" y="77" width="13" height="4" fill="#cc0000"/>
<rect x="337" y="77" width="5" height="4" fill="#8e0000"/>
<rect x="342" y="77" width="27" height="4" fill="#cc0000"/>
<rect x="369" y="77" width="18" height="4" fill="#8e0000"/>
<rect x="387" y="77" width="4" height="4" fill="#460000"/>
<rect x="405" y="77" width="4" height="4" fill="#300000"/>
<rect x="409" y="77" width="18" height="4" fill="#460000"/>
<rect x="427" y="77" width="4" height="4" fill="#300000"/>
<rect x="324" y="81" width="18" height="5" fill="#cc0000"/>
<rect x="342" y="81" width="4" height="5" fill="#460000"/>
<rect x="346" y="81" width="23" height="5" fill="#cc0000"/>
<rect x="369" y="81" width="18" height="5" fill="#8e0000"/>
<rect x="387" y="81" width="4" height="5" fill="#460000"/>
<rect x="405" y="81" width="4" height="5" fill="#300000"/>
<rect x="409" y="81" width="18" height="5" fill="#460000"/>
<rect x="427" y="81" width="4" height="5" fill="#300000"/>
<rect x="324" y="86" width="9" height="4" fill="#8e0000"/>
<rect x="333" y="86" width="9" height="4" fill="#cc0000"/>
<rect x="346" y="86" width="23" height="4" fill="#cc0000"/>
<rect x="369" y="86" width="13" height="4" fill="#8e0000"/>
<rect x="382" y="86" width="5" height="4" fill="#460000"/>
<rect x="405" y="86" width="4" height="4" fill="#300000"/>
<rect x="409" y="86" width="18" height="4" fill="#460000"/>
<rect x="427" y="86" width="4" height="4" fill="#300000"/>
<rect x="324" y="90" width="4" height="5" fill="#460000"/>
<rect x="328" y="90" width="9" height="5" fill="#300000"/>
<rect x="337" y="90" width="9" height="5" fill="#460000"/>
<rect x="346" y="90" width="5" height="5" fill="#300000"/>
<rect x="351" y="90" width="31" height="5" fill="#cc0000"/>
<rect x="382" y="90" width="5" height="5" fill="#300000"/>
<rect x="414" y="90" width="17" height="5" fill="#300000"/>
<rect x="324" y="95" width="4" height="4" fill="#8e0000"/>
<rect x="328" y="95" width="14" height="4" fill="#ec0c0c"/>
<rect x="342" y="95" width="4" height="4" fill="#8e0000"/>
<rect x="346" y="95" width="5" height="4" fill="#300000"/>
<rect x="351" y="95" width="31" height="4" fill="#cc0000"/>
<rect x="382" y="95" width="5" height="4" fill="#300000"/>
<rect x="418" y="95" width="13" height="4" fill="#300000"/>
<rect x="324" y="99" width="4" height="5" fill="#300000"/>
<rect x="328" y="99" width="5" height="5" fill="#460000"/>
<rect x="333" y="99" width="9" height="5" fill="#8e0000"/>
<rect x="342" y="99" width="4" height="5" fill="#460000"/>
<rect x="346" y="99" width="5" height="5" fill="#8e0000"/>
<rect x="351" y="99" width="31" height="5" fill="#cc0000"/>
<rect x="382" y="99" width="5" height="5" fill="#300000"/>
<rect x="423" y="99" width="8" height="5" fill="#300000"/>
<rect x="324" y="104" width="18" height="4" fill="#300000"/>
<rect x="346" y="104" width="5" height="4" fill="#460000"/>
<rect x="351" y="104" width="31" height="4" fill="#cc0000"/>
<rect x="423" y="104" width="8" height="4" fill="#300000"/>
<rect x="346" y="108" width="5" height="4" fill="#300000"/>
<rect x="351" y="108" width="4" height="4" fill="#8e0000"/>
<rect x="355" y="108" width="41" height="4" fill="#cc0000"/>
<rect x="396" y="108" width="4" height="4" fill="#460000"/>
<rect x="427" y="108" width="4" height="4" fill="#300000"/>
<rect x="351" y="112" width="4" height="5" fill="#460000"/>
<rect x="355" y="112" width="45" height="5" fill="#8e0000"/>
<rect x="400" y="112" width="5" height="5" fill="#300000"/>
<rect x="351" y="117" width="4" height="4" fill="#300000"/>
<rect x="355" y="117" width="5" height="4" fill="#460000"/>
<rect x="360" y="117" width="45" height="4" fill="#8e0000"/>
<rect x="405" y="117" width="9" height="4" fill="#460000"/>
<rect x="414" y="117" width="9" height="4" fill="#8e0000"/>
<rect x="423" y="117" width="8" height="4" fill="#cc0000"/>
<rect x="431" y="117" width="5" height="4" fill="#460000"/>
<rect x="436" y="117" width="4" height="4" fill="#300000"/>
<rect x="360" y="121" width="4" height="5" fill="#460000"/>
<rect x="364" y="121" width="54" height="5" fill="#8e0000"/>
<rect x="418" y="121" width="9" height="5" fill="#cc0000"/>
<rect x="427" y="121" width="4" height="5" fill="#8e0000"/>
<rect x="431" y="121" width="9" height="5" fill="#460000"/>
<rect x="440" y="121" width="5" height="5" fill="#300000"/>
<rect x="364" y="126" width="5" height="4" fill="#8e0000"/>
<rect x="369" y="126" width="9" height="4" fill="#cc0000"/>
<rect x="378" y="126" width="36" height="4" fill="#8e0000"/>
<rect x="414" y="126" width="26" height="4" fill="#cc0000"/>
<rect x="440" y="126" width="5" height="4" fill="#8e0000"/>
<rect x="445" y="126" width="4" height="4" fill="#460000"/>
<rect x="364" y="130" width="5" height="5" fill="#460000"/>
<rect x="369" y="130" width="18" height="5" fill="#cc0000"/>
<rect x="387" y="130" width="4" height="5" fill="#ec0c0c"/>
<rect x="391" y="130" width="58" height="5" fill="#cc0000"/>
<rect x="369" y="135" width="4" height="4" fill="#460000"/>
<rect x="373" y="135" width="5" height="4" fill="#8e0000"/>
<rect x="378" y="135" width="71" height="4" fill="#b00000"/>
<rect x="373" y="139" width="9" height="5" fill="#300000"/>
<rect x="382" y="139" width="67" height="5" fill="#b00000"/>
<rect x="382" y="144" width="5" height="4" fill="#300000"/>
<rect x="387" y="144" width="4" height="4" fill="#460000"/>
<rect x="391" y="144" width="58" height="4" fill="#b00000"/>
<rect x="387" y="148" width="9" height="5" fill="#300000"/>
<rect x="396" y="148" width="53" height="5" fill="#b00000"/>
<rect x="396" y="153" width="4" height="4" fill="#300000"/>
<rect x="400" y="153" width="5" height="4" fill="#460000"/>
<rect x="405" y="153" width="44" height="4" fill="#b00000"/></g>
<g shape-rendering="crispEdges"><rect x="459" y="18" width="143" height="139" fill="#000"/>
<rect x="499" y="18" width="23" height="5" fill="#0a4c0a"/>
<rect x="522" y="18" width="4" height="5" fill="#063006"/>
<rect x="526" y="18" width="36" height="5" fill="#0a4c0a"/>
<rect x="562" y="18" width="4" height="5" fill="#107010"/>
<rect x="566" y="18" width="14" height="5" fill="#0a4c0a"/>
<rect x="499" y="23" width="5" height="5" fill="#109010"/>
<rect x="504" y="23" width="18" height="5" fill="#0a4c0a"/>
<rect x="526" y="23" width="36" height="5" fill="#0a4c0a"/>
<rect x="562" y="23" width="4" height="5" fill="#107010"/>
<rect x="566" y="23" width="14" height="5" fill="#0a4c0a"/>
<rect x="459" y="28" width="18" height="4" fill="#0a4c0a"/>
<rect x="486" y="28" width="4" height="4" fill="#0a4c0a"/>
<rect x="499" y="28" width="5" height="4" fill="#109010"/>
<rect x="504" y="28" width="18" height="4" fill="#0a4c0a"/>
<rect x="526" y="28" width="4" height="4" fill="#109010"/>
<rect x="530" y="28" width="32" height="4" fill="#0a4c0a"/>
<rect x="562" y="28" width="4" height="4" fill="#107010"/>
<rect x="566" y="28" width="14" height="4" fill="#0a4c0a"/>
<rect x="459" y="32" width="18" height="5" fill="#0a4c0a"/>
<rect x="486" y="32" width="9" height="5" fill="#109010"/>
<rect x="495" y="32" width="4" height="5" fill="#063006"/>
<rect x="499" y="32" width="18" height="5" fill="#0a4c0a"/>
<rect x="522" y="32" width="8" height="5" fill="#109010"/>
<rect x="530" y="32" width="32" height="5" fill="#0a4c0a"/>
<rect x="562" y="32" width="4" height="5" fill="#107010"/>
<rect x="566" y="32" width="14" height="5" fill="#0a4c0a"/>
<rect x="459" y="37" width="13" height="4" fill="#0a4c0a"/>
<rect x="486" y="37" width="9" height="4" fill="#109010"/>
<rect x="495" y="37" width="4" height="4" fill="#0a4c0a"/>
<rect x="504" y="37" width="9" height="4" fill="#0a4c0a"/>
<rect x="513" y="37" width="4" height="4" fill="#109010"/>
<rect x="517" y="37" width="40" height="4" fill="#0a4c0a"/>
<rect x="557" y="37" width="5" height="4" fill="#107010"/>
<rect x="562" y="37" width="18" height="4" fill="#0a4c0a"/>
<rect x="459" y="41" width="9" height="5" fill="#063006"/>
<rect x="481" y="41" width="14" height="5" fill="#109010"/>
<rect x="508" y="41" width="5" height="5" fill="#109010"/>
<rect x="513" y="41" width="4" height="5" fill="#14c014"/>
<rect x="517" y="41" width="5" height="5" fill="#109010"/>
<rect x="522" y="41" width="35" height="5" fill="#0a4c0a"/>
<rect x="557" y="41" width="5" height="5" fill="#107010"/>
<rect x="562" y="41" width="18" height="5" fill="#0a4c0a"/>
<rect x="459" y="46" width="9" height="4" fill="#063006"/>
<rect x="477" y="46" width="4" height="4" fill="#14c014"/>
<rect x="481" y="46" width="5" height="4" fill="#30e030"/>
<rect x="486" y="46" width="4" height="4" fill="#109010"/>
<rect x="490" y="46" width="5" height="4" fill="#0a4c0a"/>
<rect x="504" y="46" width="4" height="4" fill="#109010"/>
<rect x="508" y="46" width="5" height="4" fill="#14c014"/>
<rect x="513" y="46" width="9" height="4" fill="#109010"/>
<rect x="522" y="46" width="35" height="4" fill="#0a4c0a"/>
<rect x="557" y="46" width="5" height="4" fill="#107010"/>
<rect x="562" y="46" width="18" height="4" fill="#0a4c0a"/>
<rect x="459" y="50" width="9" height="5" fill="#063006"/>
<rect x="477" y="50" width="9" height="5" fill="#14c014"/>
<rect x="486" y="50" width="4" height="5" fill="#109010"/>
<rect x="499" y="50" width="9" height="5" fill="#14c014"/>
<rect x="508" y="50" width="14" height="5" fill="#109010"/>
<rect x="522" y="50" width="35" height="5" fill="#0a4c0a"/>
<rect x="557" y="50" width="5" height="5" fill="#107010"/>
<rect x="562" y="50" width="18" height="5" fill="#0a4c0a"/>
<rect x="472" y="55" width="9" height="4" fill="#14c014"/>
<rect x="481" y="55" width="5" height="4" fill="#109010"/>
<rect x="486" y="55" width="4" height="4" fill="#0a4c0a"/>
<rect x="490" y="55" width="5" height="4" fill="#063006"/>
<rect x="495" y="55" width="9" height="4" fill="#14c014"/>
<rect x="504" y="55" width="22" height="4" fill="#109010"/>
<rect x="526" y="55" width="31" height="4" fill="#0a4c0a"/>
<rect x="557" y="55" width="5" height="4" fill="#107010"/>
<rect x="562" y="55" width="22" height="4" fill="#0a4c0a"/>
<rect x="472" y="59" width="5" height="4" fill="#0a4c0a"/>
<rect x="477" y="59" width="4" height="4" fill="#109010"/>
<rect x="490" y="59" width="14" height="4" fill="#14c014"/>
<rect x="504" y="59" width="22" height="4" fill="#109010"/>
<rect x="526" y="59" width="4" height="4" fill="#0a4c0a"/>
<rect x="530" y="59" width="5" height="4" fill="#109010"/>
<rect x="535" y="59" width="9" height="4" fill="#063006"/>
<rect x="544" y="59" width="9" height="4" fill="#0a4c0a"/>
<rect x="553" y="59" width="4" height="4" fill="#107010"/>
<rect x="557" y="59" width="27" height="4" fill="#0a4c0a"/>
<rect x="472" y="63" width="5" height="5" fill="#0a4c0a"/>
<rect x="481" y="63" width="5" height="5" fill="#109010"/>
<rect x="486" y="63" width="22" height="5" fill="#14c014"/>
<rect x="508" y="63" width="27" height="5" fill="#109010"/>
<rect x="535" y="63" width="13" height="5" fill="#063006"/>
<rect x="548" y="63" width="5" height="5" fill="#0a4c0a"/>
<rect x="553" y="63" width="4" height="5" fill="#107010"/>
<rect x="557" y="63" width="27" height="5" fill="#0a4c0a"/>
<rect x="472" y="68" width="5" height="4" fill="#0a4c0a"/>
<rect x="477" y="68" width="4" height="4" fill="#109010"/>
<rect x="481" y="68" width="5" height="4" fill="#14c014"/>
<rect x="486" y="68" width="4" height="4" fill="#109010"/>
<rect x="490" y="68" width="5" height="4" fill="#30e030"/>
<rect x="495" y="68" width="18" height="4" fill="#14c014"/>
<rect x="513" y="68" width="22" height="4" fill="#109010"/>
<rect x="535" y="68" width="4" height="4" fill="#0a4c0a"/>
<rect x="539" y="68" width="9" height="4" fill="#063006"/>
<rect x="548" y="68" width="5" height="4" fill="#0a4c0a"/>
<rect x="553" y="68" width="4" height="4" fill="#107010"/>
<rect x="557" y="68" width="27" height="4" fill="#0a4c0a"/>
<rect x="477" y="72" width="9" height="5" fill="#14c014"/>
<rect x="486" y="72" width="4" height="5" fill="#0a4c0a"/>
<rect x="490" y="72" width="27" height="5" fill="#14c014"/>
<rect x="517" y="72" width="22" height="5" fill="#109010"/>
<rect x="539" y="72" width="5" height="5" fill="#0a4c0a"/>
<rect x="544" y="72" width="9" height="5" fill="#063006"/>
<rect x="553" y="72" width="4" height="5" fill="#107010"/>
<rect x="557" y="72" width="27" height="5" fill="#0a4c0a"/>
<rect x="472" y="77" width="5" height="4" fill="#0a4c0a"/>
<rect x="477" y="77" width="13" height="4" fill="#14c014"/>
<rect x="490" y="77" width="5" height="4" fill="#109010"/>
<rect x="495" y="77" width="27" height="4" fill="#14c014"/>
<rect x="522" y="77" width="17" height="4" fill="#109010"/>
<rect x="539" y="77" width="5" height="4" fill="#0a4c0a"/>
<rect x="557" y="77" width="5" height="4" fill="#063006"/>
<rect x="562" y="77" width="22" height="4" fill="#0a4c0a"/>
<rect x="477" y="81" width="18" height="5" fill="#14c014"/>
<rect x="495" y="81" width="4" height="5" fill="#0a4c0a"/>
<rect x="499" y="81" width="23" height="5" fill="#14c014"/>
<rect x="522" y="81" width="17" height="5" fill="#109010"/>
<rect x="539" y="81" width="5" height="5" fill="#0a4c0a"/>
<rect x="557" y="81" width="5" height="5" fill="#063006"/>
<rect x="562" y="81" width="22" height="5" fill="#0a4c0a"/>
<rect x="477" y="86" width="9" height="4" fill="#109010"/>
<rect x="486" y="86" width="9" height="4" fill="#14c014"/>
<rect x="499" y="86" width="23" height="4" fill="#14c014"/>
<rect x="522" y="86" width="13" height="4" fill="#109010"/>
<rect x="535" y="86" width="4" height="4" fill="#0a4c0a"/>
<rect x="557" y="86" width="5" height="4" fill="#063006"/>
<rect x="562" y="86" width="22" height="4" fill="#0a4c0a"/>
<rect x="477" y="90" width="4" height="5" fill="#0a4c0a"/>
<rect x="481" y="90" width="9" height="5" fill="#063006"/>
<rect x="490" y="90" width="9" height="5" fill="#0a4c0a"/>
<rect x="499" y="90" width="5" height="5" fill="#063006"/>
<rect x="504" y="90" width="31" height="5" fill="#14c014"/>
<rect x="535" y="90" width="4" height="5" fill="#063006"/>
<rect x="566" y="90" width="18" height="5" fill="#0a4c0a"/>
<rect x="477" y="95" width="4" height="4" fill="#109010"/>
<rect x="481" y="95" width="14" height="4" fill="#30e030"/>
<rect x="495" y="95" width="4" height="4" fill="#109010"/>
<rect x="499" y="95" width="5" height="4" fill="#063006"/>
<rect x="504" y="95" width="31" height="4" fill="#14c014"/>
<rect x="535" y="95" width="4" height="4" fill="#063006"/>
<rect x="571" y="95" width="13" height="4" fill="#0a4c0a"/>
<rect x="477" y="99" width="4" height="5" fill="#063006"/>
<rect x="481" y="99" width="5" height="5" fill="#0a4c0a"/>
<rect x="486" y="99" width="9" height="5" fill="#109010"/>
<rect x="495" y="99" width="4" height="5" fill="#0a4c0a"/>
<rect x="499" y="99" width="5" height="5" fill="#109010"/>
<rect x="504" y="99" width="31" height="5" fill="#14c014"/>
<rect x="535" y="99" width="4" height="5" fill="#063006"/>
<rect x="575" y="99" width="9" height="5" fill="#0a4c0a"/>
<rect x="477" y="104" width="18" height="4" fill="#063006"/>
<rect x="499" y="104" width="5" height="4" fill="#0a4c0a"/>
<rect x="504" y="104" width="31" height="4" fill="#14c014"/>
<rect x="575" y="104" width="9" height="4" fill="#0a4c0a"/>
<rect x="499" y="108" width="5" height="4" fill="#063006"/>
<rect x="504" y="108" width="4" height="4" fill="#109010"/>
<rect x="508" y="108" width="40" height="4" fill="#14c014"/>
<rect x="548" y="108" width="5" height="4" fill="#0a4c0a"/>
<rect x="580" y="108" width="4" height="4" fill="#0a4c0a"/>
<rect x="504" y="112" width="4" height="5" fill="#0a4c0a"/>
<rect x="508" y="112" width="45" height="5" fill="#109010"/>
<rect x="553" y="112" width="4" height="5" fill="#063006"/>
<rect x="504" y="117" width="4" height="4" fill="#063006"/>
<rect x="508" y="117" width="5" height="4" fill="#0a4c0a"/>
<rect x="513" y="117" width="44" height="4" fill="#109010"/>
<rect x="557" y="117" width="9" height="4" fill="#0a4c0a"/>
<rect x="566" y="117" width="9" height="4" fill="#109010"/>
<rect x="575" y="117" width="9" height="4" fill="#14c014"/>
<rect x="584" y="117" width="5" height="4" fill="#0a4c0a"/>
<rect x="589" y="117" width="4" height="4" fill="#063006"/>
<rect x="513" y="121" width="4" height="5" fill="#0a4c0a"/>
<rect x="517" y="121" width="54" height="5" fill="#109010"/>
<rect x="571" y="121" width="9" height="5" fill="#14c014"/>
<rect x="580" y="121" width="4" height="5" fill="#109010"/>
<rect x="584" y="121" width="9" height="5" fill="#0a4c0a"/>
<rect x="593" y="121" width="5" height="5" fill="#063006"/>
<rect x="517" y="126" width="5" height="4" fill="#109010"/>
<rect x="522" y="126" width="8" height="4" fill="#14c014"/>
<rect x="530" y="126" width="36" height="4" fill="#109010"/>
<rect x="566" y="126" width="27" height="4" fill="#14c014"/>
<rect x="593" y="126" width="5" height="4" fill="#109010"/>
<rect x="598" y="126" width="4" height="4" fill="#0a4c0a"/>
<rect x="517" y="130" width="5" height="5" fill="#0a4c0a"/>
<rect x="522" y="130" width="17" height="5" fill="#14c014"/>
<rect x="539" y="130" width="5" height="5" fill="#30e030"/>
<rect x="544" y="130" width="58" height="5" fill="#14c014"/>
<rect x="522" y="135" width="4" height="4" fill="#0a4c0a"/>
<rect x="526" y="135" width="4" height="4" fill="#109010"/>
<rect x="530" y="135" width="72" height="4" fill="#14c014"/>
<rect x="526" y="139" width="9" height="5" fill="#063006"/>
<rect x="535" y="139" width="67" height="5" fill="#14c014"/>
<rect x="535" y="144" width="4" height="4" fill="#063006"/>
<rect x="539" y="144" width="5" height="4" fill="#0a4c0a"/>
<rect x="544" y="144" width="58" height="4" fill="#14c014"/>
<rect x="539" y="148" width="9" height="5" fill="#063006"/>
<rect x="548" y="148" width="54" height="5" fill="#14c014"/>
<rect x="548" y="153" width="5" height="4" fill="#063006"/>
<rect x="553" y="153" width="4" height="4" fill="#0a4c0a"/>
<rect x="557" y="153" width="45" height="4" fill="#14c014"/></g>
</g>
<text x="0.6" y="32.6" font-size="14.4" fill="#fff" textLength="15.2" lengthAdjust="spacingAndGlyphs" >(a)</text>
<text x="5.2" y="149.3" font-size="12.4" fill="#fff" textLength="6.4" lengthAdjust="spacingAndGlyphs" >E</text>
<text x="12.6" y="140.8" font-size="8.4" fill="#fff" textLength="3.8" lengthAdjust="spacingAndGlyphs" >1</text>
<text x="12.0" y="153.2" font-size="8.8" fill="#fff" textLength="10.2" lengthAdjust="spacingAndGlyphs" >2g</text>
<text x="153.6" y="32.6" font-size="14.4" fill="#fff" textLength="15.2" lengthAdjust="spacingAndGlyphs" >(b)</text>
<text x="157.6" y="149.3" font-size="12.4" fill="#fff" textLength="8.6" lengthAdjust="spacingAndGlyphs" >A</text>
<text x="166.0" y="153.2" font-size="8.8" fill="#fff" textLength="10.2" lengthAdjust="spacingAndGlyphs" >1g</text>
<text x="306.6" y="32.6" font-size="14.4" fill="#fff" textLength="15.2" lengthAdjust="spacingAndGlyphs" >(c)</text>
<text x="311.2" y="149.3" font-size="12.4" fill="#fff" textLength="6.4" lengthAdjust="spacingAndGlyphs" >E</text>
<text x="318.6" y="140.8" font-size="8.4" fill="#fff" textLength="3.8" lengthAdjust="spacingAndGlyphs" >1</text>
<text x="318.0" y="153.2" font-size="8.8" fill="#fff" textLength="10.2" lengthAdjust="spacingAndGlyphs" >2g</text>
<text x="459.6" y="32.6" font-size="14.4" fill="#fff" textLength="15.2" lengthAdjust="spacingAndGlyphs" >(d)</text>
<text x="463.6" y="149.3" font-size="12.4" fill="#fff" textLength="8.6" lengthAdjust="spacingAndGlyphs" >A</text>
<text x="472.0" y="153.2" font-size="8.8" fill="#fff" textLength="10.2" lengthAdjust="spacingAndGlyphs" >1g</text>
<text x="380.6" y="50.7" font-size="13.3" fill="#fff" textLength="13.2" lengthAdjust="spacingAndGlyphs" >1L</text>
<text x="411.4" y="66.3" font-size="13.3" fill="#fff" textLength="13.8" lengthAdjust="spacingAndGlyphs" >1L</text>
<text x="361.8" y="66" font-size="13.3" fill="#fff" textLength="13.8" lengthAdjust="spacingAndGlyphs" >2L</text>
<text x="349.3" y="80.6" font-size="13.3" fill="#fff" textLength="14.2" lengthAdjust="spacingAndGlyphs" >3L</text>
<text x="416.7" y="133.8" font-size="13.3" fill="#fff" textLength="13.6" lengthAdjust="spacingAndGlyphs" >3L</text>
<text x="426.4" y="150.7" font-size="13.3" fill="#fff" textLength="13.9" lengthAdjust="spacingAndGlyphs" >7L</text>
<path d="M97.2,167.7 H210.3 V281.1 H97.2 Z" fill="none" stroke="#999" stroke-width="1.2"/>
<line x1="93.8" y1="281.10" x2="97.2" y2="281.10" stroke="#999" stroke-width="1"/>
<line x1="97.2" y1="271.65" x2="98.4" y2="271.65" stroke="#999" stroke-width="1"/>
<line x1="93.8" y1="262.20" x2="97.2" y2="262.20" stroke="#999" stroke-width="1"/>
<line x1="97.2" y1="252.75" x2="98.4" y2="252.75" stroke="#999" stroke-width="1"/>
<line x1="93.8" y1="243.30" x2="97.2" y2="243.30" stroke="#999" stroke-width="1"/>
<line x1="97.2" y1="233.85" x2="98.4" y2="233.85" stroke="#999" stroke-width="1"/>
<line x1="93.8" y1="224.40" x2="97.2" y2="224.40" stroke="#999" stroke-width="1"/>
<line x1="97.2" y1="214.95" x2="98.4" y2="214.95" stroke="#999" stroke-width="1"/>
<line x1="93.8" y1="205.50" x2="97.2" y2="205.50" stroke="#999" stroke-width="1"/>
<line x1="97.2" y1="196.05" x2="98.4" y2="196.05" stroke="#999" stroke-width="1"/>
<line x1="93.8" y1="186.60" x2="97.2" y2="186.60" stroke="#999" stroke-width="1"/>
<line x1="97.2" y1="177.15" x2="98.4" y2="177.15" stroke="#999" stroke-width="1"/>
<line x1="93.8" y1="167.70" x2="97.2" y2="167.70" stroke="#999" stroke-width="1"/>
<line x1="97.20" y1="281.1" x2="97.20" y2="284.3" stroke="#999" stroke-width="1"/>
<line x1="108.51" y1="281.1" x2="108.51" y2="279.90000000000003" stroke="#999" stroke-width="1"/>
<line x1="119.82" y1="281.1" x2="119.82" y2="284.3" stroke="#999" stroke-width="1"/>
<line x1="131.13" y1="281.1" x2="131.13" y2="279.90000000000003" stroke="#999" stroke-width="1"/>
<line x1="142.44" y1="281.1" x2="142.44" y2="284.3" stroke="#999" stroke-width="1"/>
<line x1="153.75" y1="281.1" x2="153.75" y2="279.90000000000003" stroke="#999" stroke-width="1"/>
<line x1="165.06" y1="281.1" x2="165.06" y2="284.3" stroke="#999" stroke-width="1"/>
<line x1="176.37" y1="281.1" x2="176.37" y2="279.90000000000003" stroke="#999" stroke-width="1"/>
<line x1="187.68" y1="281.1" x2="187.68" y2="284.3" stroke="#999" stroke-width="1"/>
<line x1="198.99" y1="281.1" x2="198.99" y2="279.90000000000003" stroke="#999" stroke-width="1"/>
<line x1="210.30" y1="281.1" x2="210.30" y2="284.3" stroke="#999" stroke-width="1"/>
<text x="91.6" y="284.20000000000005" font-size="8.9" fill="#333" text-anchor="end" >0.0</text>
<text x="91.6" y="265.30000000000007" font-size="8.9" fill="#333" text-anchor="end" >0.5</text>
<text x="91.6" y="246.4" font-size="8.9" fill="#333" text-anchor="end" >1.0</text>
<text x="91.6" y="227.5" font-size="8.9" fill="#333" text-anchor="end" >1.5</text>
<text x="91.6" y="208.6" font-size="8.9" fill="#333" text-anchor="end" >2.0</text>
<text x="91.6" y="189.69999999999996" font-size="8.9" fill="#333" text-anchor="end" >2.5</text>
<text x="91.6" y="170.79999999999998" font-size="8.9" fill="#333" text-anchor="end" >3.0</text>
<text x="97.2" y="292.7" font-size="8.9" fill="#333" text-anchor="middle" >370</text>
<text x="119.82000000000001" y="292.7" font-size="8.9" fill="#333" text-anchor="middle" >380</text>
<text x="142.44" y="292.7" font-size="8.9" fill="#333" text-anchor="middle" >390</text>
<text x="165.06" y="292.7" font-size="8.9" fill="#333" text-anchor="middle" >400</text>
<text x="187.68" y="292.7" font-size="8.9" fill="#333" text-anchor="middle" >410</text>
<text x="207.0" y="292.7" font-size="8.9" fill="#333" text-anchor="middle" >420</text>
<text x="71.3" y="227.4" font-size="10.1" fill="#222" text-anchor="middle" transform="rotate(-90 71.3 227.4)">Normalised intensity (a.u)</text>
<text x="154.6" y="309.6" font-size="10.1" fill="#222" text-anchor="middle" >Raman shift (cm<tspan font-size="6.6" dy="-4.2">-1</tspan><tspan dy="4.2">)</tspan></text>
<text x="60.2" y="309.8" font-size="13.0" fill="#222" text-anchor="start" >(e)</text>
<line x1="128.9" y1="168.89999999999998" x2="128.9" y2="281.1" stroke="#6b6bff" stroke-width="1" stroke-dasharray="1.6,1.4"/>
<line x1="172.6" y1="168.89999999999998" x2="172.6" y2="281.1" stroke="#6b6bff" stroke-width="1" stroke-dasharray="1.6,1.4"/>
<polyline points="97.3,213.6 106,212.8 114.3,209.6 118,203 123.9,185.3 128.2,187.6 134.4,210.5 140,213.3 150,213.7 162,213.2 171.2,210.4 180.1,175.4 184.6,175.4 191.3,209.3 194.6,213.3 210,213.5" fill="none" stroke="#ff22ff" stroke-width="1.2" stroke-linejoin="round"/>
<polyline points="97.3,231.8 110.4,230 114.8,227.3 119.3,218.4 123.9,198.1 128,202 132.7,224 136,229.5 141.6,231.8 150,232.5 163.4,230.5 172.3,214.8 180.1,194.3 189,222.7 195.7,230.5 200,231.6 210,231.8" fill="none" stroke="#2a2aff" stroke-width="1.2" stroke-linejoin="round"/>
<polyline points="97.3,251.2 110.4,249.6 117.1,246.3 122.7,222.8 127.8,213.9 132.7,231.8 136,247.4 139.4,251.2 150,251.2 161.2,248.5 169,229.5 176.8,213.5 183.5,229.5 190.2,246.3 198,251.2 210,250.9" fill="none" stroke="#ff2a2a" stroke-width="1.2" stroke-linejoin="round"/>
<polyline points="97.3,268.6 110.4,267.5 119.3,265.7 123.8,257.4 127.8,247.4 131.6,250.7 136.7,264.1 141.6,268.6 150,269.5 158.9,266.3 172.3,232.2 175.7,238.5 183.5,264.1 189,267.5 200,269.2 210,269.7" fill="none" stroke="#222222" stroke-width="1.2" stroke-linejoin="round"/>
<text x="200.8" y="212.0" font-size="8.0" fill="#ff22ff" text-anchor="start" >7L</text>
<text x="200.8" y="229.9" font-size="8.0" fill="#2a2aff" text-anchor="start" >3L</text>
<text x="200.8" y="248.7" font-size="8.0" fill="#ff2a2a" text-anchor="start" >2L</text>
<text x="201.6" y="268.4" font-size="8.0" fill="#222" text-anchor="start" >1L</text>
<text x="111.4" y="182" font-size="8.0" fill="#222" text-anchor="start" >E</text>
<text x="117.6" y="177.2" font-size="5.8" fill="#222" text-anchor="start" >1</text>
<text x="115.8" y="186.4" font-size="6.6" fill="#222" text-anchor="start" >2g</text>
<text x="187.6" y="181.3" font-size="7.2" fill="#222" text-anchor="start" >A</text>
<text x="191.7" y="185.5" font-size="6.6" fill="#222" text-anchor="start" >1g</text>
<path d="M251.0,167.5 H364.0 V280.9 H251.0 Z" fill="none" stroke="#999" stroke-width="1.2"/>
<line x1="250.80" y1="167.5" x2="250.80" y2="169.5" stroke="#999" stroke-width="1"/>
<line x1="250.80" y1="280.9" x2="250.80" y2="278.9" stroke="#999" stroke-width="1"/>
<line x1="260.70" y1="167.5" x2="260.70" y2="169.5" stroke="#999" stroke-width="1"/>
<line x1="260.70" y1="280.9" x2="260.70" y2="278.9" stroke="#999" stroke-width="1"/>
<line x1="270.60" y1="167.5" x2="270.60" y2="169.5" stroke="#999" stroke-width="1"/>
<line x1="270.60" y1="280.9" x2="270.60" y2="278.9" stroke="#999" stroke-width="1"/>
<line x1="280.50" y1="167.5" x2="280.50" y2="169.5" stroke="#999" stroke-width="1"/>
<line x1="280.50" y1="280.9" x2="280.50" y2="278.9" stroke="#999" stroke-width="1"/>
<line x1="290.40" y1="167.5" x2="290.40" y2="169.5" stroke="#999" stroke-width="1"/>
<line x1="290.40" y1="280.9" x2="290.40" y2="278.9" stroke="#999" stroke-width="1"/>
<line x1="300.30" y1="167.5" x2="300.30" y2="169.5" stroke="#999" stroke-width="1"/>
<line x1="300.30" y1="280.9" x2="300.30" y2="278.9" stroke="#999" stroke-width="1"/>
<line x1="310.20" y1="167.5" x2="310.20" y2="169.5" stroke="#999" stroke-width="1"/>
<line x1="310.20" y1="280.9" x2="310.20" y2="278.9" stroke="#999" stroke-width="1"/>
<line x1="320.10" y1="167.5" x2="320.10" y2="169.5" stroke="#999" stroke-width="1"/>
<line x1="320.10" y1="280.9" x2="320.10" y2="278.9" stroke="#999" stroke-width="1"/>
<line x1="330.00" y1="167.5" x2="330.00" y2="169.5" stroke="#999" stroke-width="1"/>
<line x1="330.00" y1="280.9" x2="330.00" y2="278.9" stroke="#999" stroke-width="1"/>
<line x1="353.50" y1="167.5" x2="353.50" y2="169.5" stroke="#999" stroke-width="1"/>
<line x1="353.50" y1="280.9" x2="353.50" y2="278.9" stroke="#999" stroke-width="1"/>
<line x1="251.0" y1="167.30" x2="253.2" y2="167.30" stroke="#999" stroke-width="1"/>
<line x1="364.0" y1="167.30" x2="361.8" y2="167.30" stroke="#999" stroke-width="1"/>
<line x1="251.0" y1="176.85" x2="252.3" y2="176.85" stroke="#999" stroke-width="1"/>
<line x1="364.0" y1="176.85" x2="362.7" y2="176.85" stroke="#999" stroke-width="1"/>
<line x1="251.0" y1="186.40" x2="253.2" y2="186.40" stroke="#999" stroke-width="1"/>
<line x1="364.0" y1="186.40" x2="361.8" y2="186.40" stroke="#999" stroke-width="1"/>
<line x1="251.0" y1="195.95" x2="252.3" y2="195.95" stroke="#999" stroke-width="1"/>
<line x1="364.0" y1="195.95" x2="362.7" y2="195.95" stroke="#999" stroke-width="1"/>
<line x1="251.0" y1="205.50" x2="253.2" y2="205.50" stroke="#999" stroke-width="1"/>
<line x1="364.0" y1="205.50" x2="361.8" y2="205.50" stroke="#999" stroke-width="1"/>
<line x1="251.0" y1="215.05" x2="252.3" y2="215.05" stroke="#999" stroke-width="1"/>
<line x1="364.0" y1="215.05" x2="362.7" y2="215.05" stroke="#999" stroke-width="1"/>
<line x1="251.0" y1="224.60" x2="253.2" y2="224.60" stroke="#999" stroke-width="1"/>
<line x1="364.0" y1="224.60" x2="361.8" y2="224.60" stroke="#999" stroke-width="1"/>
<line x1="251.0" y1="245.15" x2="252.3" y2="245.15" stroke="#999" stroke-width="1"/>
<line x1="364.0" y1="245.15" x2="362.7" y2="245.15" stroke="#999" stroke-width="1"/>
<line x1="251.0" y1="254.10" x2="253.2" y2="254.10" stroke="#999" stroke-width="1"/>
<line x1="364.0" y1="254.10" x2="361.8" y2="254.10" stroke="#999" stroke-width="1"/>
<line x1="251.0" y1="263.05" x2="252.3" y2="263.05" stroke="#999" stroke-width="1"/>
<line x1="364.0" y1="263.05" x2="362.7" y2="263.05" stroke="#999" stroke-width="1"/>
<line x1="251.0" y1="272.00" x2="253.2" y2="272.00" stroke="#999" stroke-width="1"/>
<line x1="364.0" y1="272.00" x2="361.8" y2="272.00" stroke="#999" stroke-width="1"/>
<text x="247.6" y="170.9" font-size="8.9" fill="#333" text-anchor="end" >410</text>
<text x="247.6" y="190.0" font-size="8.9" fill="#333" text-anchor="end" >408</text>
<text x="247.6" y="209.1" font-size="8.9" fill="#333" text-anchor="end" >406</text>
<text x="247.6" y="228.20000000000002" font-size="8.9" fill="#333" text-anchor="end" >404</text>
<text x="247.6" y="257.7" font-size="8.9" fill="#333" text-anchor="end" >384</text>
<text x="247.6" y="275.6" font-size="8.9" fill="#333" text-anchor="end" >382</text>
<rect x="249.0" y="233.9" width="4" height="3" fill="#fff"/><path d="M249.0,235.5 L253.0,233.5 M249.0,237.3 L253.0,235.3" stroke="#777" stroke-width="0.7" fill="none"/>
<rect x="362.0" y="233.9" width="4" height="3" fill="#fff"/><path d="M362.0,235.5 L366.0,233.5 M362.0,237.3 L366.0,235.3" stroke="#777" stroke-width="0.7" fill="none"/>
<rect x="339.7" y="165.5" width="3.2" height="4" fill="#fff"/><path d="M339.1,169.5 L341.1,165.3 M341.1,169.5 L343.1,165.3" stroke="#777" stroke-width="0.7" fill="none"/>
<rect x="339.9" y="278.9" width="3.2" height="4" fill="#fff"/><path d="M339.3,282.9 L341.3,278.7 M341.3,282.9 L343.3,278.7" stroke="#777" stroke-width="0.7" fill="none"/>
<text x="250.8" y="291.6" font-size="8.9" fill="#333" text-anchor="middle" >0</text>
<text x="260.7" y="291.6" font-size="8.9" fill="#333" text-anchor="middle" >1</text>
<text x="270.6" y="291.6" font-size="8.9" fill="#333" text-anchor="middle" >2</text>
<text x="280.5" y="291.6" font-size="8.9" fill="#333" text-anchor="middle" >3</text>
<text x="290.40000000000003" y="291.6" font-size="8.9" fill="#333" text-anchor="middle" >4</text>
<text x="300.3" y="291.6" font-size="8.9" fill="#333" text-anchor="middle" >5</text>
<text x="310.20000000000005" y="291.6" font-size="8.9" fill="#333" text-anchor="middle" >6</text>
<text x="320.1" y="291.6" font-size="8.9" fill="#333" text-anchor="middle" >7</text>
<text x="330.0" y="291.6" font-size="8.9" fill="#333" text-anchor="middle" >8</text>
<text x="359.2" y="292.2" font-size="9.4" fill="#333" text-anchor="middle" >bulk</text>
<text x="306.1" y="307.1" font-size="10.1" fill="#222" text-anchor="middle" >Number of Layer (N)</text>
<text x="220.4" y="307.6" font-size="13.3" fill="#222" text-anchor="start" >(f)</text>
<text x="227.4" y="218.9" font-size="10.1" fill="#222" text-anchor="middle" transform="rotate(-90 227.4 218.9)">Raman shift (cm<tspan font-size="6.6" dy="-4.2">-1</tspan><tspan dy="4.2">)</tspan></text>
<polyline points="260.7,213.0 300.6,188.2 330.7,186.3" fill="none" stroke="#ff3030" stroke-width="1"/><line x1="330.7" y1="186.3" x2="340.10" y2="183.70" stroke="#ff3030" stroke-width="1"/><line x1="342.70" y1="182.98" x2="353.5" y2="180.0" stroke="#ff3030" stroke-width="1"/><circle cx="260.7" cy="213.0" r="1.6" fill="#ff3030"/><circle cx="300.6" cy="188.2" r="1.6" fill="#ff3030"/><circle cx="330.7" cy="186.3" r="1.6" fill="#ff3030"/><circle cx="353.5" cy="180.0" r="1.6" fill="#ff3030"/>
<polyline points="260.7,227.8 270.8,212.7 280.8,203.8 320.5,189.8" fill="none" stroke="#33e033" stroke-width="1"/><circle cx="260.7" cy="227.8" r="1.6" fill="#33e033"/><circle cx="270.8" cy="212.7" r="1.6" fill="#33e033"/><circle cx="280.8" cy="203.8" r="1.6" fill="#33e033"/><circle cx="320.5" cy="189.8" r="1.6" fill="#33e033"/>
<polyline points="260.7,240.7 300.8,254.9 330.8,260.0" fill="none" stroke="#ff3030" stroke-width="1"/><line x1="330.8" y1="260.0" x2="340.10" y2="260.53" stroke="#ff3030" stroke-width="1"/><line x1="342.70" y1="260.68" x2="353.5" y2="261.3" stroke="#ff3030" stroke-width="1"/><circle cx="260.7" cy="240.7" r="1.6" fill="#ff3030"/><circle cx="300.8" cy="254.9" r="1.6" fill="#ff3030"/><circle cx="330.8" cy="260.0" r="1.6" fill="#ff3030"/><circle cx="353.5" cy="261.3" r="1.6" fill="#ff3030"/>
<polyline points="260.7,250.6 270.8,262.6 280.7,266.1 320.6,266.1" fill="none" stroke="#33e033" stroke-width="1"/><circle cx="260.7" cy="250.6" r="1.6" fill="#33e033"/><circle cx="270.8" cy="262.6" r="1.6" fill="#33e033"/><circle cx="280.7" cy="266.1" r="1.6" fill="#33e033"/><circle cx="320.6" cy="266.1" r="1.6" fill="#33e033"/>
<line x1="257.5" y1="178.2" x2="263" y2="178.2" stroke="#33e033" stroke-width="1.2"/>
<line x1="257.5" y1="185.6" x2="263" y2="185.6" stroke="#ff3030" stroke-width="1.2"/>
<text x="264" y="180.1" font-size="8.4" fill="#333" text-anchor="start" >MoS<tspan font-size="7.6" dy="3">2</tspan><tspan dy="-3">/Si</tspan></text>
<text x="264" y="189.0" font-size="8.4" fill="#333" text-anchor="start" >MoS<tspan font-size="7.6" dy="3">2</tspan><tspan dy="-3">/Au</tspan></text>
<rect x="299.2" y="222.7" width="2.4" height="2.4" fill="#111"/>
<circle cx="300.5" cy="231.7" r="1.2" fill="#111"/>
<text x="303.6" y="226.2" font-size="7" fill="#333" text-anchor="start" >E</text>
<text x="308.8" y="221.6" font-size="5.5" fill="#333" text-anchor="start" >1</text>
<text x="306.3" y="229.2" font-size="6.2" fill="#333" text-anchor="start" >2g</text>
<text x="316.4" y="226.2" font-size="6.45" fill="#333" text-anchor="start" >Peak Position</text>
<text x="302.8" y="234.2" font-size="7" fill="#333" text-anchor="start" >A</text>
<text x="307.5" y="238.0" font-size="6.2" fill="#333" text-anchor="start" >1g</text>
<text x="316.4" y="234.2" font-size="6.45" fill="#333" text-anchor="start" >Peak Position</text>
<path d="M404.6,167.6 H517.4 V280.9 H404.6 Z" fill="none" stroke="#999" stroke-width="1.2"/>
<line x1="404.0" y1="167.6" x2="404.0" y2="169.6" stroke="#999" stroke-width="1"/>
<line x1="404.0" y1="280.9" x2="404.0" y2="278.9" stroke="#999" stroke-width="1"/>
<line x1="414.0" y1="167.6" x2="414.0" y2="169.6" stroke="#999" stroke-width="1"/>
<line x1="414.0" y1="280.9" x2="414.0" y2="278.9" stroke="#999" stroke-width="1"/>
<line x1="424.0" y1="167.6" x2="424.0" y2="169.6" stroke="#999" stroke-width="1"/>
<line x1="424.0" y1="280.9" x2="424.0" y2="278.9" stroke="#999" stroke-width="1"/>
<line x1="434.0" y1="167.6" x2="434.0" y2="169.6" stroke="#999" stroke-width="1"/>
<line x1="434.0" y1="280.9" x2="434.0" y2="278.9" stroke="#999" stroke-width="1"/>
<line x1="444.0" y1="167.6" x2="444.0" y2="169.6" stroke="#999" stroke-width="1"/>
<line x1="444.0" y1="280.9" x2="444.0" y2="278.9" stroke="#999" stroke-width="1"/>
<line x1="454.0" y1="167.6" x2="454.0" y2="169.6" stroke="#999" stroke-width="1"/>
<line x1="454.0" y1="280.9" x2="454.0" y2="278.9" stroke="#999" stroke-width="1"/>
<line x1="464.0" y1="167.6" x2="464.0" y2="169.6" stroke="#999" stroke-width="1"/>
<line x1="464.0" y1="280.9" x2="464.0" y2="278.9" stroke="#999" stroke-width="1"/>
<line x1="474.0" y1="167.6" x2="474.0" y2="169.6" stroke="#999" stroke-width="1"/>
<line x1="474.0" y1="280.9" x2="474.0" y2="278.9" stroke="#999" stroke-width="1"/>
<line x1="484.0" y1="167.6" x2="484.0" y2="169.6" stroke="#999" stroke-width="1"/>
<line x1="484.0" y1="280.9" x2="484.0" y2="278.9" stroke="#999" stroke-width="1"/>
<line x1="506.7" y1="167.6" x2="506.7" y2="169.6" stroke="#999" stroke-width="1"/>
<line x1="506.7" y1="280.9" x2="506.7" y2="278.9" stroke="#999" stroke-width="1"/>
<line x1="404.6" y1="272.50" x2="406.8" y2="272.50" stroke="#999" stroke-width="1"/>
<line x1="517.4" y1="272.50" x2="515.1999999999999" y2="272.50" stroke="#999" stroke-width="1"/>
<line x1="404.6" y1="264.40" x2="405.90000000000003" y2="264.40" stroke="#999" stroke-width="1"/>
<line x1="517.4" y1="264.40" x2="516.1" y2="264.40" stroke="#999" stroke-width="1"/>
<line x1="404.6" y1="256.30" x2="406.8" y2="256.30" stroke="#999" stroke-width="1"/>
<line x1="517.4" y1="256.30" x2="515.1999999999999" y2="256.30" stroke="#999" stroke-width="1"/>
<line x1="404.6" y1="248.20" x2="405.90000000000003" y2="248.20" stroke="#999" stroke-width="1"/>
<line x1="517.4" y1="248.20" x2="516.1" y2="248.20" stroke="#999" stroke-width="1"/>
<line x1="404.6" y1="240.10" x2="406.8" y2="240.10" stroke="#999" stroke-width="1"/>
<line x1="517.4" y1="240.10" x2="515.1999999999999" y2="240.10" stroke="#999" stroke-width="1"/>
<line x1="404.6" y1="232.00" x2="405.90000000000003" y2="232.00" stroke="#999" stroke-width="1"/>
<line x1="517.4" y1="232.00" x2="516.1" y2="232.00" stroke="#999" stroke-width="1"/>
<line x1="404.6" y1="223.90" x2="406.8" y2="223.90" stroke="#999" stroke-width="1"/>
<line x1="517.4" y1="223.90" x2="515.1999999999999" y2="223.90" stroke="#999" stroke-width="1"/>
<line x1="404.6" y1="215.80" x2="405.90000000000003" y2="215.80" stroke="#999" stroke-width="1"/>
<line x1="517.4" y1="215.80" x2="516.1" y2="215.80" stroke="#999" stroke-width="1"/>
<line x1="404.6" y1="207.70" x2="406.8" y2="207.70" stroke="#999" stroke-width="1"/>
<line x1="517.4" y1="207.70" x2="515.1999999999999" y2="207.70" stroke="#999" stroke-width="1"/>
<line x1="404.6" y1="199.60" x2="405.90000000000003" y2="199.60" stroke="#999" stroke-width="1"/>
<line x1="517.4" y1="199.60" x2="516.1" y2="199.60" stroke="#999" stroke-width="1"/>
<line x1="404.6" y1="191.50" x2="406.8" y2="191.50" stroke="#999" stroke-width="1"/>
<line x1="517.4" y1="191.50" x2="515.1999999999999" y2="191.50" stroke="#999" stroke-width="1"/>
<line x1="404.6" y1="183.40" x2="405.90000000000003" y2="183.40" stroke="#999" stroke-width="1"/>
<line x1="517.4" y1="183.40" x2="516.1" y2="183.40" stroke="#999" stroke-width="1"/>
<line x1="404.6" y1="175.30" x2="406.8" y2="175.30" stroke="#999" stroke-width="1"/>
<line x1="517.4" y1="175.30" x2="515.1999999999999" y2="175.30" stroke="#999" stroke-width="1"/>
<text x="400.6" y="275.7" font-size="8.9" fill="#333" text-anchor="end" >2.5</text>
<text x="400.6" y="259.5" font-size="8.9" fill="#333" text-anchor="end" >3.0</text>
<text x="400.6" y="243.3" font-size="8.9" fill="#333" text-anchor="end" >3.5</text>
<text x="400.6" y="227.1" font-size="8.9" fill="#333" text-anchor="end" >4.0</text>
<text x="400.6" y="210.9" font-size="8.9" fill="#333" text-anchor="end" >4.5</text>
<text x="400.6" y="194.7" font-size="8.9" fill="#333" text-anchor="end" >5.0</text>
<text x="400.6" y="178.5" font-size="8.9" fill="#333" text-anchor="end" >5.5</text>
<rect x="493.7" y="165.6" width="3.2" height="4" fill="#fff"/><path d="M493.1,169.6 L495.1,165.4 M495.1,169.6 L497.1,165.4" stroke="#777" stroke-width="0.7" fill="none"/>
<rect x="493.9" y="278.9" width="3.2" height="4" fill="#fff"/><path d="M493.3,282.9 L495.3,278.7 M495.3,282.9 L497.3,278.7" stroke="#777" stroke-width="0.7" fill="none"/>
<text x="404.0" y="291.6" font-size="8.9" fill="#333" text-anchor="middle" >0</text>
<text x="414.0" y="291.6" font-size="8.9" fill="#333" text-anchor="middle" >1</text>
<text x="424.0" y="291.6" font-size="8.9" fill="#333" text-anchor="middle" >2</text>
<text x="434.0" y="291.6" font-size="8.9" fill="#333" text-anchor="middle" >3</text>
<text x="444.0" y="291.6" font-size="8.9" fill="#333" text-anchor="middle" >4</text>
<text x="454.0" y="291.6" font-size="8.9" fill="#333" text-anchor="middle" >5</text>
<text x="464.0" y="291.6" font-size="8.9" fill="#333" text-anchor="middle" >6</text>
<text x="474.0" y="291.6" font-size="8.9" fill="#333" text-anchor="middle" >7</text>
<text x="484.0" y="291.6" font-size="8.9" fill="#333" text-anchor="middle" >8</text>
<text x="511.4" y="292.2" font-size="9.4" fill="#333" text-anchor="middle" >bulk</text>
<text x="460.3" y="307.0" font-size="10.1" fill="#222" text-anchor="middle" >Number of Layer (N)</text>
<text x="370.6" y="308.9" font-size="13.1" fill="#222" text-anchor="start" >(g)</text>
<text x="383.2" y="220.8" font-size="10.1" fill="#222" text-anchor="middle" transform="rotate(-90 383.2 220.8)">FWHM (cm<tspan font-size="6.6" dy="-4.2">-1</tspan><tspan dy="4.2">)</tspan></text>
<polyline points="414.0,214.3 454.0,205.9 484.0,229.3" fill="none" stroke="#ff3030" stroke-width="1"/><line x1="484.0" y1="229.3" x2="494.10" y2="239.13" stroke="#ff3030" stroke-width="1"/><line x1="496.70" y1="241.66" x2="506.7" y2="251.4" stroke="#ff3030" stroke-width="1"/><circle cx="414.0" cy="214.3" r="1.6" fill="#ff3030"/><circle cx="454.0" cy="205.9" r="1.6" fill="#ff3030"/><circle cx="484.0" cy="229.3" r="1.6" fill="#ff3030"/><circle cx="506.7" cy="251.4" r="1.6" fill="#ff3030"/>
<polyline points="414.0,207.1 424.2,179.1 434.0,199.5 474.2,225.7" fill="none" stroke="#33e033" stroke-width="1"/><circle cx="414.0" cy="207.1" r="1.6" fill="#33e033"/><circle cx="424.2" cy="179.1" r="1.6" fill="#33e033"/><circle cx="434.0" cy="199.5" r="1.6" fill="#33e033"/><circle cx="474.2" cy="225.7" r="1.6" fill="#33e033"/>
<polyline points="414.0,241.2 454.0,244.2 484.0,249.5" fill="none" stroke="#ff3030" stroke-width="1"/><line x1="484.0" y1="249.5" x2="494.10" y2="261.07" stroke="#ff3030" stroke-width="1"/><line x1="496.70" y1="264.05" x2="506.7" y2="275.5" stroke="#ff3030" stroke-width="1"/><circle cx="414.0" cy="241.2" r="1.6" fill="#ff3030"/><circle cx="454.0" cy="244.2" r="1.6" fill="#ff3030"/><circle cx="484.0" cy="249.5" r="1.6" fill="#ff3030"/><circle cx="506.7" cy="275.5" r="1.6" fill="#ff3030"/>
<polyline points="414.0,246.6 424.4,247.4 434.2,247.9 474.0,235.9" fill="none" stroke="#33e033" stroke-width="1"/><circle cx="414.0" cy="246.6" r="1.6" fill="#33e033"/><circle cx="424.4" cy="247.4" r="1.6" fill="#33e033"/><circle cx="434.2" cy="247.9" r="1.6" fill="#33e033"/><circle cx="474.0" cy="235.9" r="1.6" fill="#33e033"/>
<line x1="411.2" y1="259.8" x2="416.2" y2="259.8" stroke="#33e033" stroke-width="1.2"/>
<line x1="411.2" y1="267.0" x2="416.2" y2="267.0" stroke="#ff3030" stroke-width="1.2"/>
<text x="417.6" y="261.6" font-size="8.4" fill="#333" text-anchor="start" >MoS<tspan font-size="7.6" dy="3">2</tspan><tspan dy="-3">/Si</tspan></text>
<text x="417.6" y="270.3" font-size="8.4" fill="#333" text-anchor="start" >MoS<tspan font-size="7.6" dy="3">2</tspan><tspan dy="-3">/Au</tspan></text>
<rect x="481.1" y="176" width="2.2" height="2.2" fill="#111"/>
<circle cx="482.5" cy="184.6" r="1.1" fill="#111"/>
<text x="483.8" y="180.0" font-size="6.2" fill="#555" text-anchor="start" >E</text>
<text x="489.6" y="173.6" font-size="5.2" fill="#333" text-anchor="start" >1</text>
<text x="489.0" y="182.8" font-size="6" fill="#333" text-anchor="start" >2g</text>
<text x="495.8" y="178.0" font-size="6.2" fill="#333" text-anchor="start" >FWHM</text>
<text x="483.8" y="187.8" font-size="6.2" fill="#333" text-anchor="start" >A</text>
<text x="489.0" y="190.2" font-size="6" fill="#333" text-anchor="start" >1g</text>
<text x="495.8" y="188.0" font-size="6.2" fill="#333" text-anchor="start" >FWHM</text>
</svg>
</body></html>
